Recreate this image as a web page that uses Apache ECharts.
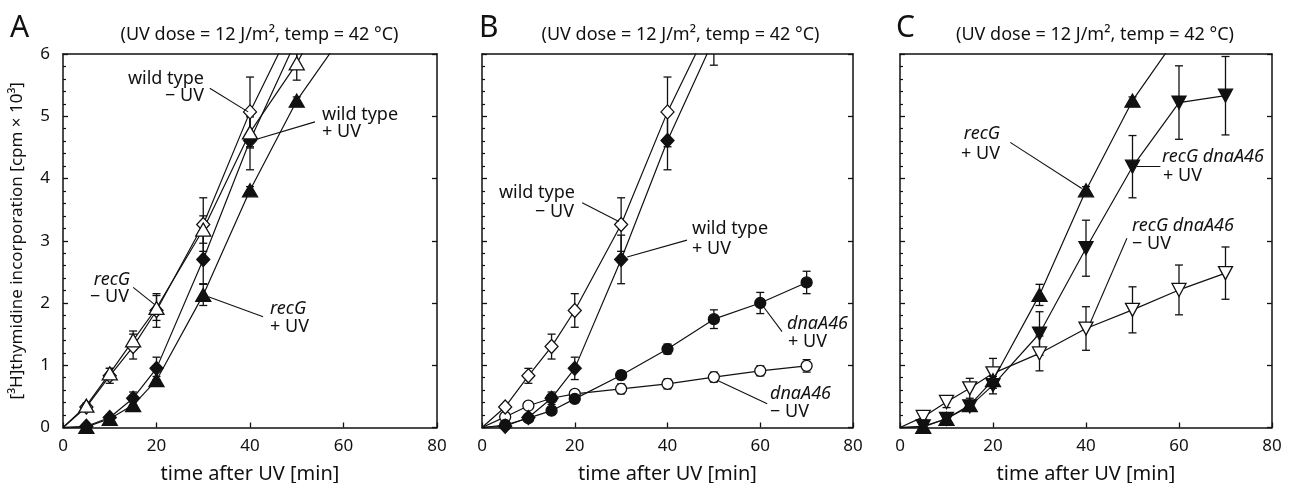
<!DOCTYPE html>
<html>
<head>
<meta charset="utf-8">
<script src="https://cdn.jsdelivr.net/npm/echarts@6/dist/echarts.min.js"></script>
<style>
html,body{margin:0;padding:0;background:#fff;}
#main{width:1292px;height:483px;}
</style>
</head>
<body>
<div id="main"></div>
<script>
// ---------- data ----------
const times = [0, 5, 10, 15, 20, 30, 40, 50, 60, 70];
const xTicks = [0, 20, 40, 60, 80];
const yTicks = [0, 1, 2, 3, 4, 5, 6];

const wtMinus    = [0, 0.33, 0.83, 1.30, 1.88, 3.26, 5.07, 6.60, null, null];
const wtMinusErr = [0, 0.04, 0.12, 0.20, 0.27, 0.43, 0.56, 0.50, null, null];
const wtPlus     = [0, 0.02, 0.16, 0.47, 0.95, 2.70, 4.61, 6.24, null, null];
const wtPlusErr  = [0, 0.02, 0.04, 0.10, 0.18, 0.39, 0.47, 0.42, null, null];
const recGMinus    = [0, 0.35, 0.87, 1.40, 1.92, 3.18, 4.74, 5.85, 7.20, null];
const recGMinusErr = [0, 0.04, 0.08, 0.15, 0.20, 0.22, 0.25, 0.27, null, null];
const recGPlus     = [0, 0.01, 0.14, 0.36, 0.76, 2.13, 3.81, 5.25, 6.32, null];
const recGPlusErr  = [0, 0.02, 0.03, 0.05, 0.06, 0.17, 0.06, 0.06, null, null];
const dnaPlus     = [0, 0.04, 0.15, 0.27, 0.46, 0.84, 1.26, 1.74, 2.00, 2.33];
const dnaPlusErr  = [0, 0.02, 0.03, 0.05, 0.05, 0.07, 0.08, 0.15, 0.17, 0.18];
const dnaMinus    = [0, 0.17, 0.35, 0.47, 0.54, 0.62, 0.70, 0.81, 0.91, 0.99];
const dnaMinusErr = [0, 0.03, 0.04, 0.05, 0.05, 0.08, 0.08, 0.08, 0.08, 0.10];
const rdPlus     = [0, 0.02, 0.14, 0.34, 0.68, 1.51, 2.88, 4.19, 5.22, 5.33];
const rdPlusErr  = [0, 0.02, 0.03, 0.08, 0.14, 0.35, 0.45, 0.50, 0.59, 0.63];
const rdMinus    = [0, 0.17, 0.41, 0.63, 0.87, 1.19, 1.59, 1.89, 2.21, 2.48];
const rdMinusErr = [0, 0.04, 0.09, 0.16, 0.24, 0.28, 0.35, 0.37, 0.40, 0.42];

// leader lines (data coordinates: [time, value])
const leadersA = [[[31.4, 5.45], [39.6, 5.07]], [[53.9, 4.91], [39.6, 4.59]], [[15.0, 2.25], [19.7, 1.97]], [[31.1, 2.10], [42.8, 1.78]]];
const leadersB = [[[21.6, 3.61], [29.5, 3.31]], [[44.2, 3.01], [31.3, 2.74]], [[64.7, 1.54], [60.7, 1.94]], [[61.5, 0.38], [50.7, 0.76]]];
const leadersC = [[[23.7, 4.58], [39.1, 3.84]], [[56.0, 4.19], [50.9, 4.19]], [[48.8, 3.04], [40.9, 1.68]]];

const titleText = '(UV dose = 12 J/m², temp = 42 °C)';
const xName = 'time after UV [min]';
const yName = '[³H]thymidine incorporation [cpm × 10³]';

// ---------- layout ----------
const FONT = 'Noto Sans';
const grids = [
  {left: 63, top: 54, width: 374, height: 373.5},
  {left: 482, top: 54, width: 371, height: 373.5},
  {left: 900, top: 54, width: 372, height: 373.5}
];

const xAxes = [], yAxes = [];
grids.forEach((g, i) => {
  xAxes.push({
    gridIndex: i, type: 'value', position: 'bottom', min: 0, max: 80, interval: 20,
    name: xName, nameLocation: 'middle', nameGap: 37,
    nameTextStyle: {fontFamily: FONT, fontSize: 20, color: '#111'},
    axisLine: {show: true, onZero: false, lineStyle: {color: '#111', width: 1.5}},
    axisTick: {show: true, inside: true, length: 5, lineStyle: {color: '#111', width: 1.3}},
    axisLabel: {show: true, margin: 10, fontFamily: FONT, fontSize: 17, color: '#111'},
    splitLine: {show: false}
  });
  xAxes.push({
    gridIndex: i, type: 'value', position: 'top', min: 0, max: 80, interval: 20,
    axisLine: {show: true, onZero: false, lineStyle: {color: '#111', width: 1.5}},
    axisTick: {show: false}, axisLabel: {show: false}, splitLine: {show: false}
  });
  yAxes.push({
    gridIndex: i, type: 'value', position: 'left', min: 0, max: 6, interval: 1,
    name: i === 0 ? yName : '', nameLocation: 'middle', nameGap: 37,
    nameTextStyle: {fontFamily: FONT, fontSize: 17, color: '#111'},
    axisLine: {show: true, onZero: false, lineStyle: {color: '#111', width: 1.5}},
    axisTick: {show: true, inside: true, length: 5, lineStyle: {color: '#111', width: 1.3}},
    minorTick: {show: true, splitNumber: 5, length: 3, lineStyle: {color: '#111', width: 1.2}},
    axisLabel: {show: i === 0, margin: 13, fontFamily: FONT, fontSize: 17, color: '#111'},
    splitLine: {show: false}, minorSplitLine: {show: false}
  });
  yAxes.push({
    gridIndex: i, type: 'value', position: 'right', min: 0, max: 6, interval: 1,
    axisLine: {show: true, onZero: false, lineStyle: {color: '#111', width: 1.5}},
    axisTick: {show: true, inside: true, length: 5, lineStyle: {color: '#111', width: 1.3}},
    axisLabel: {show: false}, splitLine: {show: false}
  });
});

function pts(vals) {
  const out = [];
  vals.forEach((v, i) => {
    if (v == null) return;
    out.push(i === 0 ? {value: [times[i], v], symbol: 'none'} : {value: [times[i], v]});
  });
  return out;
}
function errPts(vals, errs) {
  const out = [];
  vals.forEach((v, i) => {
    if (i === 0 || v == null || errs[i] == null) return;
    out.push([times[i], v, errs[i]]);
  });
  return out;
}

function errRender(params, api) {
  const x = api.value(0), y = api.value(1), e = api.value(2);
  const cs = params.coordSys;
  const top = api.coord([x, y + e]);
  const bot = api.coord([x, y - e]);
  const minY = cs.y, maxY = cs.y + cs.height;
  const hw = 4;
  const st = {stroke: '#111', lineWidth: 1.3};
  const ch = [];
  const y1 = Math.max(top[1], minY), y2 = Math.min(bot[1], maxY);
  if (y2 > y1) ch.push({type: 'line', shape: {x1: top[0], y1: y1, x2: top[0], y2: y2}, style: st});
  if (top[1] >= minY && top[1] <= maxY) ch.push({type: 'line', shape: {x1: top[0] - hw, y1: top[1], x2: top[0] + hw, y2: top[1]}, style: st});
  if (bot[1] >= minY && bot[1] <= maxY) ch.push({type: 'line', shape: {x1: bot[0] - hw, y1: bot[1], x2: bot[0] + hw, y2: bot[1]}, style: st});
  return {type: 'group', children: ch};
}

const series = [];
function addSeries(g, name, vals, errs, symbol, size, filled, rotate) {
  series.push({
    type: 'custom', name: name + ' err', xAxisIndex: 2 * g, yAxisIndex: 2 * g,
    renderItem: errRender, data: errPts(vals, errs), z: 2, silent: true
  });
  series.push({
    type: 'line', name: name, xAxisIndex: 2 * g, yAxisIndex: 2 * g,
    data: pts(vals), symbol: symbol, symbolSize: size, symbolRotate: rotate || 0,
    showAllSymbol: true, clip: true, z: 3,
    lineStyle: {color: '#111', width: 1.2},
    itemStyle: {color: filled ? '#111' : '#fff', borderColor: '#111', borderWidth: 1.3},
    animation: false
  });
}
function addLeaders(g, arr) {
  series.push({
    type: 'lines', coordinateSystem: 'cartesian2d', xAxisIndex: 2 * g, yAxisIndex: 2 * g,
    data: arr.map(c => ({coords: c})), symbol: 'none', z: 4,
    lineStyle: {color: '#111', width: 1.1, opacity: 1, curveness: 0}, silent: true
  });
}

// Panel A
addSeries(0, 'recG + UV', recGPlus, recGPlusErr, 'triangle', [15, 13], true);
addSeries(0, 'wild type + UV', wtPlus, wtPlusErr, 'diamond', [13, 14], true);
addSeries(0, 'wild type − UV', wtMinus, wtMinusErr, 'diamond', [13, 14], false);
addSeries(0, 'recG − UV', recGMinus, recGMinusErr, 'triangle', [15, 13], false);
addLeaders(0, leadersA);
// Panel B
addSeries(1, 'dnaA46 − UV', dnaMinus, dnaMinusErr, 'circle', 11, false);
addSeries(1, 'dnaA46 + UV', dnaPlus, dnaPlusErr, 'circle', 11, true);
addSeries(1, 'wild type + UV', wtPlus, wtPlusErr, 'diamond', [13, 14], true);
addSeries(1, 'wild type − UV', wtMinus, wtMinusErr, 'diamond', [13, 14], false);
addLeaders(1, leadersB);
// Panel C
addSeries(2, 'recG dnaA46 − UV', rdMinus, rdMinusErr, 'triangle', [14, 13], false, 180);
addSeries(2, 'recG + UV', recGPlus, recGPlusErr, 'triangle', [15, 13], true);
addSeries(2, 'recG dnaA46 + UV', rdPlus, rdPlusErr, 'triangle', [14, 13], true, 180);
addLeaders(2, leadersC);

// ---------- texts ----------
function txt(x, y, s, align, opts) {
  opts = opts || {};
  return {
    type: 'text', x: x, y: y, z: 10,
    style: {
      text: s, fill: '#111', fontFamily: FONT, fontSize: opts.size || 18,
      fontStyle: opts.italic ? 'italic' : 'normal',
      textAlign: align, textVerticalAlign: 'middle'
    }
  };
}
const graphics = [
  txt(10, 28, 'A', 'left', {size: 30}),
  txt(479, 28, 'B', 'left', {size: 30}),
  txt(896, 28, 'C', 'left', {size: 30}),
  txt(259.5, 35, titleText, 'center'),
  txt(680.5, 35, titleText, 'center'),
  txt(1095, 35, titleText, 'center'),
  // A
  txt(204, 79, 'wild type', 'right'),
  txt(204, 96, '− UV', 'right'),
  txt(322, 115, 'wild type', 'left'),
  txt(322, 132, '+ UV', 'left'),
  txt(130, 280, 'recG', 'right', {italic: true}),
  txt(129, 297, '− UV', 'right'),
  txt(270, 309, 'recG', 'left', {italic: true}),
  txt(270, 327, '+ UV', 'left'),
  // B
  txt(575, 193, 'wild type', 'right'),
  txt(574, 212, '− UV', 'right'),
  txt(692, 229, 'wild type', 'left'),
  txt(692, 249, '+ UV', 'left'),
  txt(787, 324, 'dnaA46', 'left', {italic: true}),
  txt(788, 342, '+ UV', 'left'),
  txt(770, 394, 'dnaA46', 'left', {italic: true}),
  txt(770, 412, '− UV', 'left'),
  // C
  txt(1000, 134, 'recG', 'right', {italic: true}),
  txt(1000, 154, '+ UV', 'right'),
  txt(1162, 157, 'recG dnaA46', 'left', {italic: true}),
  txt(1163, 176, '+ UV', 'left'),
  txt(1132, 226, 'recG dnaA46', 'left', {italic: true}),
  txt(1132, 244, '− UV', 'left')
];

const chart = echarts.init(document.getElementById('main'), null, {renderer: 'canvas'});
chart.setOption({
  animation: false,
  backgroundColor: '#fff',
  grid: grids.map(g => Object.assign({containLabel: false, outerBoundsMode: 'none'}, g)),
  xAxis: xAxes,
  yAxis: yAxes,
  series: series,
  graphic: graphics
});
</script>
</body>
</html>
